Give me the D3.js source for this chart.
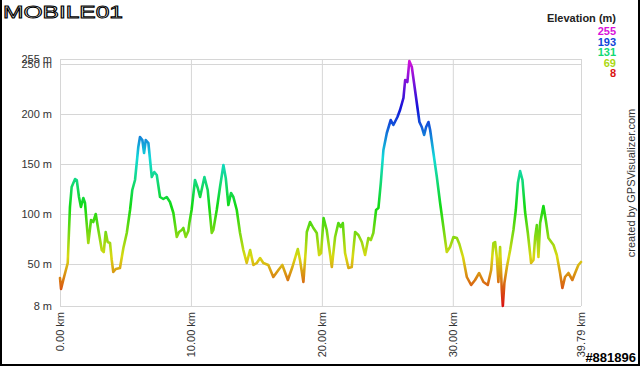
<!DOCTYPE html>
<html>
<head>
<meta charset="utf-8">
<script src="https://cdn.jsdelivr.net/npm/d3@7"></script>
<style>
  body { margin: 0; background: #fff; }
  svg text { font-family: "Liberation Sans", Arial, sans-serif; }
</style>
</head>
<body>
<div id="graph"></div>
<script>
// elevation profile
const distanceKm = [0.00, 0.08, 0.25, 0.59, 0.76, 0.89, 1.15, 1.28, 1.45, 1.60, 1.78, 1.91, 2.16, 2.37, 2.54, 2.73, 2.93, 3.19, 3.34, 3.49,
  3.64, 3.82, 3.95, 4.07, 4.26, 4.58, 4.84, 5.10, 5.35, 5.52, 5.73, 5.98, 6.11, 6.29, 6.42, 6.55, 6.75, 7.01, 7.20, 7.39,
  7.64, 7.89, 8.15, 8.40, 8.66, 8.92, 9.09, 9.30, 9.42, 9.60, 9.80, 9.88, 10.05, 10.31, 10.52, 10.70, 11.03, 11.28, 11.59, 11.71,
  11.97, 12.22, 12.48, 12.66, 12.86, 13.06, 13.24, 13.50, 13.75, 14.00, 14.26, 14.52, 14.77, 15.03, 15.28, 15.53, 15.91, 16.29, 16.68, 16.98,
  17.40, 17.75, 18.16, 18.33, 18.59, 18.77, 18.85, 19.10, 19.35, 19.61, 19.79, 19.94, 20.13, 20.37, 20.76, 21.01, 21.26, 21.44, 21.60, 21.77,
  22.03, 22.28, 22.54, 22.79, 23.05, 23.30, 23.55, 23.74, 23.93, 24.14, 24.32, 24.50, 24.70, 24.96, 25.26, 25.46, 25.77, 25.97, 26.23, 26.36,
  26.53, 26.68, 26.87, 27.04, 27.25, 27.45, 27.63, 27.81, 27.96, 28.14, 28.27, 28.52, 28.78, 29.03, 29.28, 29.54, 29.79, 30.05, 30.31, 30.50,
  30.78, 31.07, 31.40, 31.70, 32.01, 32.34, 32.67, 32.93, 33.10, 33.23, 33.36, 33.48, 33.61, 33.74, 33.82, 33.94, 34.13, 34.38, 34.63, 34.81,
  34.97, 35.14, 35.32, 35.52, 35.73, 35.98, 36.16, 36.29, 36.42, 36.54, 36.67, 36.92, 37.10, 37.30, 37.69, 37.94, 38.19, 38.37, 38.57, 38.83,
  39.13, 39.34, 39.59, 39.79];
const elevationM = [36, 25, 34, 51, 107, 127, 135, 134, 117, 107, 116, 111, 71, 94, 92, 100, 84, 64, 62, 82,
  72, 71, 54, 42, 45, 46, 66, 81, 104, 124, 134, 167, 177, 174, 161, 174, 171, 137, 142, 139,
  117, 115, 117, 112, 101, 77, 82, 84, 86, 77, 83, 91, 104, 134, 126, 117, 137, 124, 81, 84,
  104, 127, 149, 136, 109, 121, 117, 104, 81, 64, 51, 64, 49, 51, 56, 51, 49, 37, 44, 49,
  34, 47, 65, 54, 32, 64, 82, 92, 86, 81, 59, 61, 96, 84, 47, 77, 91, 87, 91, 61,
  46, 47, 82, 79, 72, 59, 76, 74, 81, 104, 106, 131, 164, 181, 194, 189, 197, 204, 216, 234,
  232, 253, 247, 231, 211, 192, 187, 179, 187, 192, 184, 161, 137, 111, 87, 62, 67, 77, 76, 70,
  57, 37, 29, 34, 41, 32, 29, 44, 71, 72, 57, 32, 67, 24, 8, 31, 47, 64, 84, 104,
  131, 143, 134, 102, 81, 51, 54, 77, 89, 57, 91, 108, 94, 76, 69, 59, 41, 26, 37, 41,
  34, 41, 49, 52];

const yTicks = [8, 50, 100, 150, 200, 250, 255];
const xTicks = [0, 10, 20, 30, 39.79];
const legendValues = [255, 193, 131, 69, 8];

const W = 640, H = 366;
const margin = { top: 59, right: 59, bottom: 60, left: 60 };
const width = W - margin.left - margin.right;
const height = H - margin.top - margin.bottom;

const xScale = d3.scaleLinear().domain([0, 39.79]).range([margin.left, margin.left + width]);
const yScale = d3.scaleLinear().domain([8, 255]).range([margin.top + height, margin.top]);
const hue = d3.scaleLinear().domain([8, 255]).range([0, 300]);
const colorOf = v => d3.hsl(hue(v), 0.85, 0.46).formatHex();

const svg = d3.select("#graph").append("svg")
  .attr("width", W).attr("height", H);

// gradient keyed on elevation (vertical position)
const grad = svg.append("defs").append("linearGradient")
  .attr("id", "elevGrad")
  .attr("gradientUnits", "userSpaceOnUse")
  .attr("x1", 0).attr("x2", 0)
  .attr("y1", yScale(8)).attr("y2", yScale(255));
d3.range(0, 1.0001, 0.025).forEach(t => {
  grad.append("stop").attr("offset", t).attr("stop-color", colorOf(8 + t * 247));
});

// y axis + horizontal grid
const yAxis = svg.append("g")
  .attr("transform", `translate(${margin.left},0)`)
  .call(d3.axisLeft(yScale).tickValues(yTicks).tickSize(-width).tickPadding(8)
    .tickFormat(d => d + " m"));
yAxis.select(".domain").remove();
yAxis.selectAll("line").attr("stroke", "#d6d6d6");
yAxis.selectAll("text").attr("fill", "#333").attr("font-size", 11);

// x axis + vertical grid
const xAxis = svg.append("g")
  .attr("transform", `translate(0,${margin.top + height})`)
  .call(d3.axisBottom(xScale).tickValues(xTicks).tickSize(-height)
    .tickFormat(d => d3.format(".2f")(d) + " km"));
xAxis.select(".domain").remove();
xAxis.selectAll("line").attr("stroke", "#d6d6d6");
xAxis.selectAll("text")
  .attr("fill", "#333").attr("font-size", 11)
  .attr("transform", "rotate(-90)")
  .attr("x", -6).attr("y", 0).attr("dy", "0.35em")
  .attr("text-anchor", "end");

// profile line
const points = distanceKm.map((d, i) => ({ km: d, m: elevationM[i] }));
const line = d3.line().x(d => xScale(d.km)).y(d => yScale(d.m));
svg.append("path").datum(points)
  .attr("fill", "none")
  .attr("stroke", "url(#elevGrad)")
  .attr("stroke-width", 2.6)
  .attr("stroke-linejoin", "round")
  .attr("stroke-linecap", "round")
  .attr("d", line);

// legend
const legend = svg.append("g").attr("text-anchor", "end").attr("font-size", 11).attr("font-weight", "bold");
legend.append("text").attr("x", 616).attr("y", 22).attr("fill", "#222").text("Elevation (m)");
legend.selectAll(".lv").data(legendValues).enter().append("text")
  .attr("class", "lv")
  .attr("x", 616).attr("y", (d, i) => 35 + i * 10.6)
  .attr("fill", d => colorOf(d))
  .text(d => d);

// credit
svg.append("text")
  .attr("transform", "translate(635,183) rotate(-90)")
  .attr("text-anchor", "middle").attr("font-size", 11).attr("fill", "#333")
  .text("created by GPSVisualizer.com");

// watermark logo and id
svg.append("text")
  .attr("x", 3).attr("y", 18)
  .attr("font-family", "DejaVu Sans").attr("font-size", 17)
  .attr("textLength", 120).attr("lengthAdjust", "spacingAndGlyphs")
  .attr("fill", "#fff").attr("stroke", "#000").attr("stroke-width", 0.9)
  .text("MOBILE01");
svg.append("text")
  .attr("x", 636).attr("y", 362).attr("text-anchor", "end")
  .attr("font-weight", "bold").attr("font-size", 13)
  .attr("fill", "#000").attr("stroke", "#fff").attr("stroke-width", 0.6)
  .attr("paint-order", "stroke")
  .text("#881896");

// frame
svg.append("path")
  .attr("d", `M1,0V${H - 1}H${W - 1}V0`)
  .attr("fill", "none").attr("stroke", "#000").attr("stroke-width", 2);
</script>
</body>
</html>
